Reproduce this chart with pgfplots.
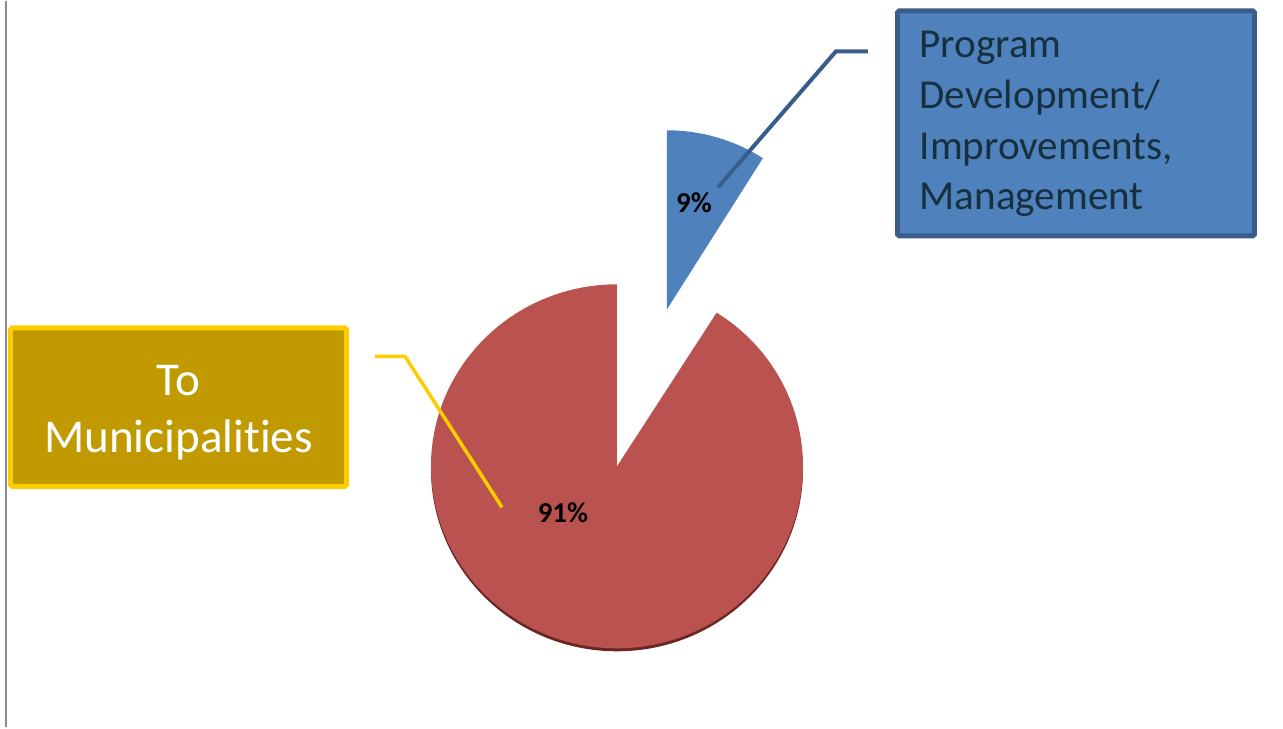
\documentclass[border=0pt]{standalone}
\usepackage{fontspec}
\setmainfont{Carlito}[Ligatures=NoCommon]
\usepackage{pgfplots}
\usepackage{pgfplotstable}
\pgfplotsset{compat=1.18}
\definecolor{pieRed}{HTML}{BA524F}
\definecolor{pieRedDark}{HTML}{6B2624}
\definecolor{pieBlue}{HTML}{4F81BD}
\definecolor{blueEdge}{HTML}{385D8A}
\definecolor{blueText}{HTML}{17303F}
\definecolor{goldFill}{HTML}{C09A00}
\definecolor{goldEdge}{HTML}{FFCC00}
\definecolor{frameGray}{HTML}{8C8C8C}
\pgfplotstableread{
label value
Program 9
Municipalities 91
}\piedata
\begin{document}
\begin{tikzpicture}
\pgfplotstablegetelem{0}{value}\of\piedata \let\vBlue\pgfplotsretval%
\pgfplotstablegetelem{1}{value}\of\piedata \let\vRed\pgfplotsretval%
\pgfmathsetmacro{\total}{\vBlue+\vRed}%
\pgfmathsetmacro{\aBlue}{90-(360/\total)*\vBlue}%
\pgfmathsetmacro{\aRedEnd}{\aBlue-(360/\total)*\vRed}%
\begin{axis}[scale only axis, width=12.83cm, height=7.26cm,
  xmin=0, xmax=1283, ymin=0, ymax=726, hide axis, clip=false]
% full canvas
\path (axis cs:0,0) rectangle (axis cs:1283,726);
% frame line on the left
\draw[frameGray, line width=0.75pt] (axis cs:6,0) -- (axis cs:6,726);
% shadow under the pie
\fill[pieRedDark] (axis cs:431,258) arc[start angle=180, end angle=360, x radius=1.86cm, y radius=1.82cm] -- cycle;
% red slice (91%)
\fill[pieRed] (axis cs:617,261) -- ++(\aBlue:1.86cm and 1.82cm)
  arc[start angle=\aBlue, end angle=\aRedEnd, x radius=1.86cm, y radius=1.82cm] -- cycle;
% blue slice (9%), exploded
\fill[pieBlue] (axis cs:667,418) -- ++(\aBlue:1.79cm)
  arc[start angle=\aBlue, end angle=90, radius=1.79cm] -- cycle;
% leader lines
\draw[blueEdge, line width=1.14pt] (axis cs:718,540) -- (axis cs:836,676) -- (axis cs:868,676);
\draw[goldEdge, line width=1pt] (axis cs:502,220) -- (axis cs:405,371) -- (axis cs:375,371);
% percentage labels
\node[font=\bfseries\fontsize{8.2}{9.8}\selectfont, inner sep=0] at (axis cs:694,525) {9\%};
\node[font=\bfseries\fontsize{8.2}{9.8}\selectfont, inner sep=0] at (axis cs:563,215) {91\%};
% blue label box
\draw[fill=pieBlue, draw=blueEdge, line width=1.42pt, rounded corners=0.5pt] (axis cs:897.5,716.5) rectangle (axis cs:1254.5,491.5);
\node[anchor=base west, inner sep=0, text=blueText, font=\fontsize{11.7}{14}\selectfont] at (axis cs:919,670) {Program};
\node[anchor=base west, inner sep=0, text=blueText, font=\fontsize{11.7}{14}\selectfont] at (axis cs:919,619) {Development/};
\node[anchor=base west, inner sep=0, text=blueText, font=\fontsize{11.7}{14}\selectfont] at (axis cs:919,568) {Improvements,};
\node[anchor=base west, inner sep=0, text=blueText, font=\fontsize{11.7}{14}\selectfont] at (axis cs:919,518) {Management};
% gold label box
\draw[fill=goldFill, draw=goldEdge, line width=1.42pt, rounded corners=0.5pt] (axis cs:10.5,399.5) rectangle (axis cs:346.5,241);
\node[anchor=base, inner sep=0, text=white, font=\fontsize{13.4}{16}\selectfont] at (axis cs:178.5,332) {To};
\node[anchor=base, inner sep=0, text=white, font=\fontsize{13.4}{16}\selectfont] at (axis cs:178.5,275) {Municipalities};
\end{axis}
\end{tikzpicture}
\end{document}
